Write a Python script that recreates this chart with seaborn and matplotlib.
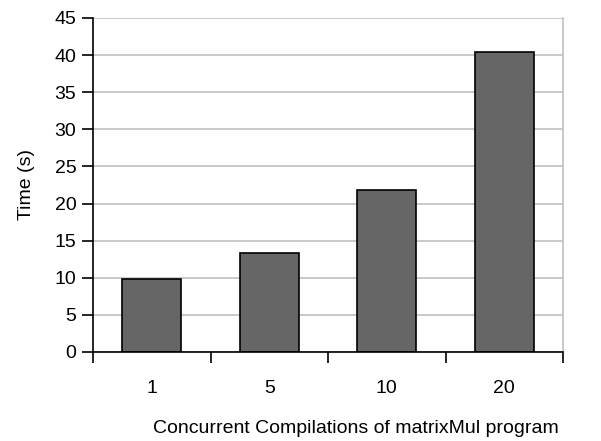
import matplotlib.pyplot as plt
import seaborn as sns
import pandas as pd

# Data
compilations = ["1", "5", "10", "20"]
times = [9.8, 13.4, 21.8, 40.4]

df = pd.DataFrame({"compilations": compilations, "time": times})

sns.set_style("white")
plt.rcParams["font.family"] = ["Liberation Sans", "DejaVu Sans"]
plt.rcParams["text.color"] = "black"
plt.rcParams["axes.labelcolor"] = "black"
plt.rcParams["xtick.color"] = "black"
plt.rcParams["ytick.color"] = "black"

fig = plt.figure(figsize=(6.01, 4.41), dpi=100)
ax = fig.add_axes([93 / 601, (441 - 352) / 441, 470 / 601, 334 / 441])

sns.barplot(data=df, x="compilations", y="time", color="#666666",
            edgecolor="black", linewidth=1.2, width=0.5, saturation=1, ax=ax)

ax.set_xlim(-0.5, 3.5)
ax.set_ylim(0, 45)
ax.set_yticks(range(0, 46, 5))
ax.yaxis.grid(True, color="#c0c0c0", linewidth=1.2)
ax.set_axisbelow(True)

# Excel-style ticks between categories
ax.set_xticks([-0.5, 0.5, 1.5, 2.5, 3.5], minor=True)
ax.tick_params(axis="x", which="minor", bottom=True, length=8, width=1.2,
               direction="out", color="black")
ax.tick_params(axis="x", which="major", bottom=True, length=0, pad=20, labelsize=14)
ax.tick_params(axis="y", left=True, length=8, width=1.2, direction="out",
               color="black", labelsize=14, pad=4)

for s in ["left", "bottom"]:
    ax.spines[s].set_color("black")
    ax.spines[s].set_linewidth(1.2)
ax.spines["right"].set_color("#c0c0c0")
ax.spines["right"].set_linewidth(1.2)
ax.spines["top"].set_visible(False)

ax.set_xlabel("Concurrent Compilations of matrixMul program", fontsize=14,
              labelpad=17, x=0.56)
ax.set_ylabel("Time (s)", fontsize=14, labelpad=14)

fig.savefig("out.png", dpi=100)
